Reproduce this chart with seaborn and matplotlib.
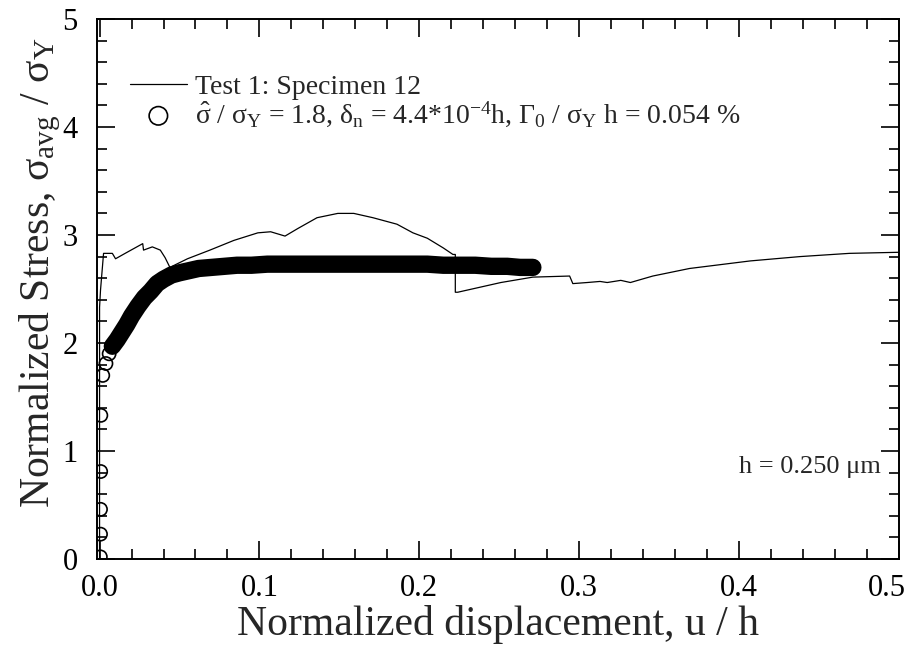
import numpy as np
import pandas as pd
import matplotlib
matplotlib.use("Agg")
import matplotlib.pyplot as plt
import matplotlib.transforms as mtransforms
import seaborn as sns

# ---- data ----
test_x = [0.0, 0.0, 0.0006, 0.0025, 0.008, 0.010, 0.016, 0.027, 0.0275, 0.033, 0.038,
          0.041, 0.044, 0.055, 0.069, 0.084, 0.099, 0.107, 0.116, 0.124, 0.136, 0.149,
          0.159, 0.171, 0.186, 0.196, 0.205, 0.215, 0.221, 0.2225, 0.2225, 0.224, 0.251,
          0.271, 0.294, 0.296, 0.305, 0.313, 0.3175, 0.326, 0.332, 0.346, 0.369, 0.407,
          0.438, 0.469, 0.5]
test_y = [0.0, 2.33, 2.49, 2.83, 2.83, 2.78, 2.83, 2.92, 2.86, 2.89, 2.86,
          2.79, 2.70, 2.78, 2.86, 2.95, 3.02, 3.03, 2.99, 3.06, 3.16, 3.20,
          3.20, 3.16, 3.10, 3.02, 2.97, 2.88, 2.82, 2.82, 2.47, 2.47, 2.56,
          2.61, 2.62, 2.55, 2.56, 2.57, 2.56, 2.58, 2.56, 2.62, 2.69, 2.76,
          2.80, 2.83, 2.84]

# simulation: sparse start points (open circles) then dense band
start_x = [0.0005, 0.0006, 0.0006, 0.0007, 0.0008, 0.002, 0.004, 0.006]
start_y = [0.02, 0.23, 0.46, 0.81, 1.33, 1.70, 1.81, 1.90]
band_x = [0.008, 0.011, 0.014, 0.017, 0.020, 0.024, 0.028, 0.032, 0.036, 0.040,
          0.045, 0.050, 0.056, 0.062, 0.070, 0.078, 0.086, 0.095, 0.105, 0.115,
          0.125, 0.135, 0.145, 0.155, 0.165, 0.175, 0.185, 0.195, 0.205, 0.215,
          0.225, 0.235, 0.245, 0.255, 0.263, 0.271]
band_y = [1.97, 2.03, 2.10, 2.17, 2.25, 2.34, 2.42, 2.48, 2.55, 2.59,
          2.63, 2.65, 2.67, 2.69, 2.70, 2.71, 2.72, 2.72, 2.73, 2.73,
          2.73, 2.73, 2.73, 2.73, 2.73, 2.73, 2.73, 2.73, 2.73, 2.72,
          2.72, 2.72, 2.71, 2.71, 2.70, 2.70]

x_ticks = [0.0, 0.1, 0.2, 0.3, 0.4, 0.5]
x_ticklabels = ["0.0", "0.1", "0.2", "0.3", "0.4", "0.5"]
y_ticks = [0, 1, 2, 3, 4, 5]
y_ticklabels = ["0", "1", "2", "3", "4", "5"]

label_test = "Test 1: Specimen 12"
label_sim = (r"$\hat{\sigma}$ / $\sigma_Y$ = 1.8, $\delta_n$ = 4.4*10$^{-4}$h, "
             r"$\Gamma_0$ / $\sigma_Y$ h = 0.054 %")

sns.set_theme(style="ticks")
plt.rcParams["font.family"] = ["Liberation Serif", "DejaVu Serif"]
plt.rcParams["mathtext.fontset"] = "custom"
plt.rcParams["mathtext.rm"] = "Liberation Serif"
plt.rcParams["mathtext.it"] = "Liberation Serif"
plt.rcParams["mathtext.default"] = "regular"

fig = plt.figure(figsize=(9.08, 6.53), dpi=100)
ax = fig.add_axes([97 / 908, 1 - 559 / 653, (899 - 97) / 908, (559 - 19) / 653])

test_df = pd.DataFrame({"x": test_x, "y": test_y})
sns.lineplot(data=test_df, x="x", y="y", ax=ax, sort=False, estimator=None,
             color="black", lw=0.9, label=label_test)

band_df = pd.DataFrame({"x": band_x, "y": band_y})
sns.lineplot(data=band_df, x="x", y="y", ax=ax, sort=False, estimator=None,
             color="black", lw=12.5, solid_capstyle="round", legend=False)

sim_df = pd.DataFrame({"x": start_x + band_x, "y": start_y + band_y})
sns.scatterplot(data=sim_df, x="x", y="y", ax=ax, marker="o", s=90,
                facecolors="none", edgecolor="black", linewidth=1.2,
                label=label_sim)

ax.set_xlim(-0.0016, 0.5)
ax.set_ylim(0, 5)
ax.set_xticks(x_ticks)
ax.set_xticklabels(x_ticklabels)
ax.set_yticks(y_ticks)
ax.set_yticklabels(y_ticklabels)
ax.set_xticks(np.arange(0, 0.5001, 0.02), minor=True)
ax.set_yticks(np.arange(0, 5.001, 0.2), minor=True)
ax.tick_params(which="both", direction="in", top=True, right=True,
               width=1.2, colors="black")
ax.tick_params(which="major", length=13, labelsize=22)
ax.tick_params(axis="y", which="major", pad=14)
ax.tick_params(axis="x", which="major", pad=11)
ax.tick_params(which="minor", length=7)
for s in ax.spines.values():
    s.set_linewidth(1.4)
    s.set_color("black")

# shift the last x tick label left so it stays inside the figure
last = ax.get_xticklabels()[-1]
last.set_transform(last.get_transform() +
                   mtransforms.ScaledTranslation(-12 / 100, 0, fig.dpi_scale_trans))

ax.set_xlabel("Normalized displacement, u / h", fontsize=30)
ax.xaxis.set_label_coords(0.5, -0.085)
ax.set_ylabel(r"Normalized Stress, $\sigma_{avg}$ / $\sigma_Y$", fontsize=30)
ax.yaxis.set_label_coords(-0.043, 0.53)

ax.text(0.40, 0.85, "h = 0.250 \u03bcm", fontsize=19, va="center", ha="left")

h, l = ax.get_legend_handles_labels()
leg = ax.legend(h, l, loc="upper left", bbox_to_anchor=(0.041, 0.898),
                frameon=False, fontsize=20, handlelength=2.05, handletextpad=0.3,
                labelspacing=0.0, borderpad=0, borderaxespad=0, markerscale=1.4)

fig.savefig("out.png", dpi=100)
